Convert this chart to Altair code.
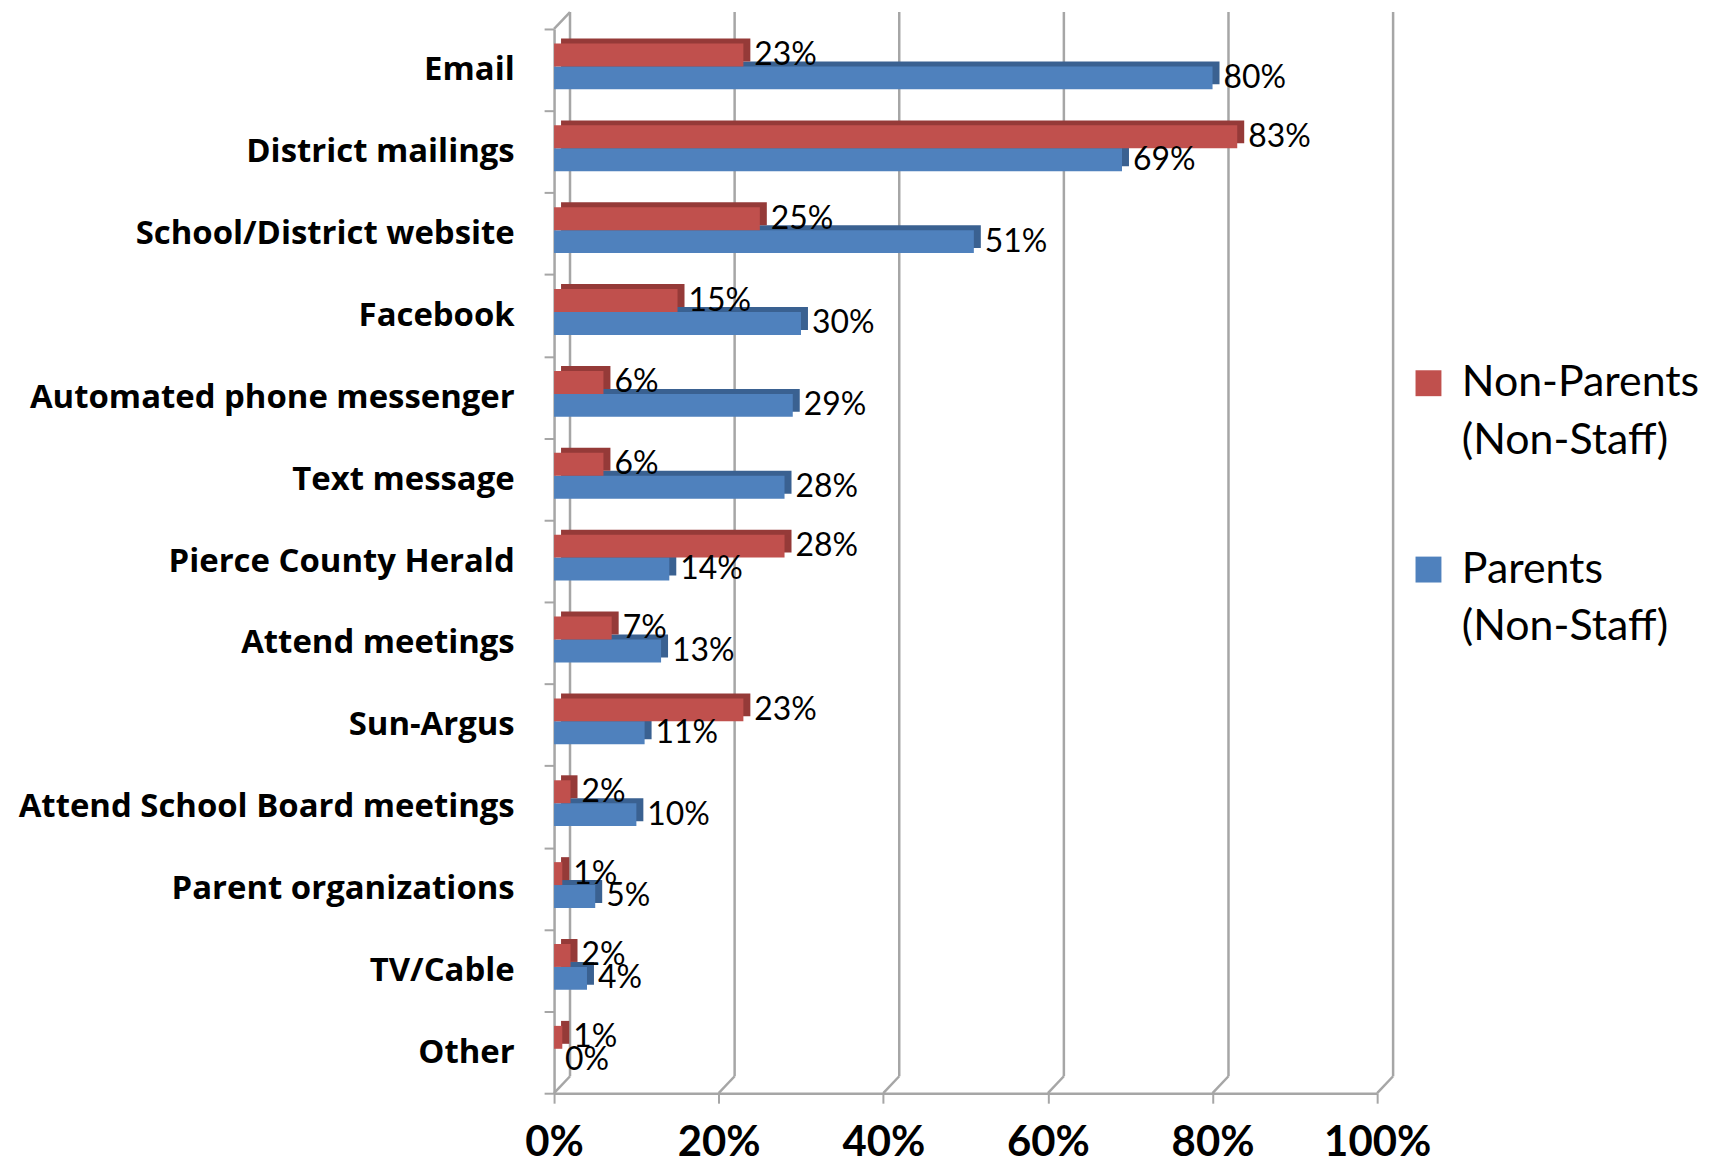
import altair as alt
import pandas as pd

categories = ["Email", "District mailings", "School/District website", "Facebook",
              "Automated phone messenger", "Text message", "Pierce County Herald",
              "Attend meetings", "Sun-Argus", "Attend School Board meetings",
              "Parent organizations", "TV/Cable", "Other"]
non_parents = [23, 83, 25, 15, 6, 6, 28, 7, 23, 2, 1, 2, 1]
parents = [80, 69, 51, 30, 29, 28, 14, 13, 11, 10, 5, 4, 0]
series_names = ["Non-Parents (Non-Staff)", "Parents (Non-Staff)"]
tick_values = [0, 20, 40, 60, 80, 100]

RED, RED_DARK = "#C0504D", "#953A38"
BLUE, BLUE_DARK = "#4F81BD", "#3A6191"
GRID = "#A6A6A6"

W, H = 826, 1068
BAR = 23
DEPTH_X, DEPTH_Y = 7, -5
BACK_X, BACK_Y = 16, -17

rows = []
for c, a, b in zip(categories, non_parents, parents):
    rows.append({"category": c, "series": series_names[0], "value": a})
    rows.append({"category": c, "series": series_names[1], "value": b})
df = pd.DataFrame(rows)
ticks_df = pd.DataFrame({"value": tick_values})
zero_df = pd.DataFrame({"value": [0]})

xscale = alt.Scale(domain=[0, 100], nice=False, zero=True)
xaxis = alt.Axis(values=tick_values, labelExpr="datum.value + '%'", title=None,
                 grid=False, labelFont="Lato", labelFontWeight="bold", labelFlush=False,
                 labelFontSize=42, labelColor="#000000", tickSize=10, tickColor=GRID,
                 tickWidth=2, domainColor=GRID, domainWidth=2.5, labelPadding=20)
X = alt.X("value:Q", scale=xscale, axis=xaxis)
yaxis = alt.Axis(title=None, labelFont="Open Sans", labelFontWeight="bold", labelFontSize=33,
                 labelColor="#000000", tickBand="extent", tickSize=10, tickColor=GRID,
                 tickWidth=2, domainColor=GRID, domainWidth=2.5, labelPadding=30,
                 labelLimit=700)
Y = alt.Y("category:N", sort=categories, axis=yaxis,
          scale=alt.Scale(paddingInner=0, paddingOuter=0))

base = alt.Chart(df)

grid = alt.Chart(ticks_df).mark_rule(color=GRID, strokeWidth=2.5, xOffset=BACK_X).encode(
    x=X, y=alt.value(BACK_Y), y2=alt.value(H + BACK_Y))
diag = alt.Chart(ticks_df).mark_rule(color=GRID, strokeWidth=2.5, xOffset=0, x2Offset=BACK_X).encode(
    x=X, x2="value:Q", y=alt.value(H), y2=alt.value(H + BACK_Y))
topdiag = alt.Chart(zero_df).mark_rule(color=GRID, strokeWidth=2.5, xOffset=0, x2Offset=BACK_X).encode(
    x=X, x2="value:Q", y=alt.value(0), y2=alt.value(BACK_Y))

color = alt.Color("series:N", scale=alt.Scale(domain=series_names, range=[RED, BLUE]),
                  legend=alt.Legend(title=None, orient="none", legendX=856, legendY=334,
                                    symbolType="square", symbolSize=676, symbolStrokeWidth=0,
                                    labelFont="Lato", labelFontSize=43, labelColor="#000000",
                                    labelExpr="split(datum.label, ' ')", labelBaseline="middle",
                                    rowPadding=85, labelOffset=12, padding=0, labelLimit=400))

def bars(series, yoff, main, dark):
    sub = base.transform_filter(alt.datum.series == series)
    shadow = sub.mark_bar(color=dark, size=BAR, xOffset=DEPTH_X, yOffset=yoff + DEPTH_Y).encode(x=X, y=Y)
    front = sub.mark_bar(size=BAR, yOffset=yoff).encode(x=X, y=Y, color=color)
    label = sub.transform_calculate(lab="datum.value + '%'").mark_text(
        align="left", baseline="middle", dx=11, yOffset=yoff, font="Lato", fontSize=32,
        color="#000000").encode(x=X, y=Y, text="lab:N")
    return shadow, front, label

bs, bf, bl = bars(series_names[1], 8, BLUE, BLUE_DARK)
rs, rf, rl = bars(series_names[0], -15, RED, RED_DARK)

chart = alt.layer(grid, diag, topdiag, bs, bf, rs, rf, bl, rl).properties(
    width=W, height=H, padding={"left": 10, "top": 0, "right": 5, "bottom": 0}
).configure(style={"guide-label": {"lineHeight": 58}}).configure_view(stroke="transparent", strokeWidth=0)

chart.save("out.html", embed_options={"renderer": "svg", "actions": False})
